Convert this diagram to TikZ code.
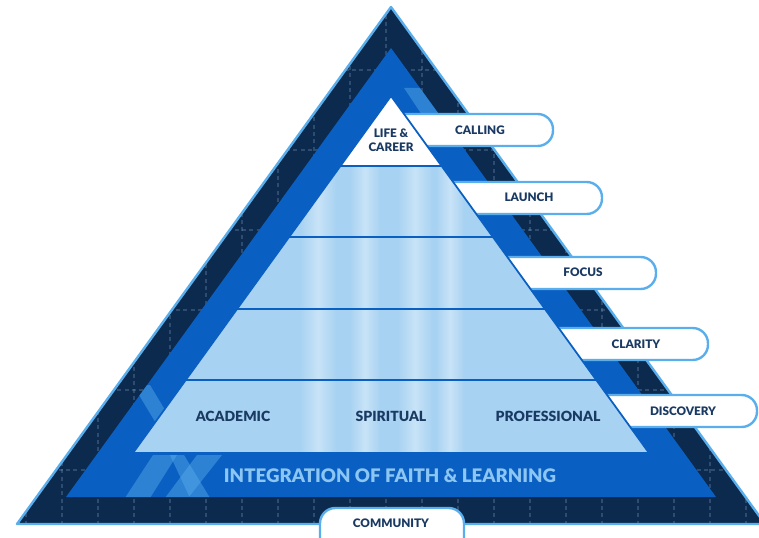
\documentclass[tikz,border=0pt]{standalone}
\usepackage{fontspec}
\setmainfont{Lato}[BoldFont={Lato Black}]

\definecolor{navy}{HTML}{0C2A4D}
\definecolor{midblue}{HTML}{0A5FC2}
\definecolor{paleblue}{HTML}{A8D2F2}
\definecolor{streak}{HTML}{C8E3F7}
\definecolor{rimblue}{HTML}{5AAEEC}
\definecolor{inkblue}{HTML}{1A3A63}
\definecolor{glowblue}{HTML}{8CC6F2}
\definecolor{plaid}{HTML}{7A9CC4}

\tikzset{
  plaidline/.style={draw=plaid, line width=1.6, opacity=0.3, dash pattern=on 3pt off 2.5pt},
  glint/.style={fill=rimblue, opacity=0.45},
  tabshape/.style={fill=white, draw=rimblue, line width=1.8, rounded corners=11.5pt},
  levelline/.style={draw=midblue, line width=1.3, line join=round},
  tablabel/.style={font=\bfseries\fontsize{8.8}{10.5}\selectfont, text=inkblue, align=center},
  levellabel/.style={font=\bfseries\fontsize{10.5}{12}\selectfont, text=inkblue}
}

\begin{document}
\begin{tikzpicture}[x=0.75pt,y=-0.75pt]
  \useasboundingbox (0,0) rectangle (759,538);

  % outer band
  \coordinate (otop) at (391,7);
  \coordinate (oright) at (765,524);
  \coordinate (oleft) at (17,524);
  \fill[navy] (otop) -- (oright) -- (oleft) -- cycle;
  \begin{scope}
    \clip (otop) -- (oright) -- (oleft) -- cycle;
    \foreach \px in {26,62,...,760}
      \draw[plaidline] (\px,0) -- (\px,538);
    \foreach \py in {70,150,...,540}
      \draw[plaidline] (0,\py) -- (759,\py);
  \end{scope}
  \draw[rimblue, line width=1.8, line join=round] (otop) -- (oright) -- (oleft) -- cycle;

  % blue band
  \coordinate (btop) at (391,48);
  \coordinate (bright) at (716,497);
  \coordinate (bleft) at (66,497);
  \fill[midblue] (btop) -- (bright) -- (bleft) -- cycle;
  \begin{scope}
    \clip (btop) -- (bright) -- (bleft) -- cycle;
    \fill[glint] (133,385) -- (150,385) -- (174,425) -- (157,425) -- cycle;
    \fill[glint] (197,455) -- (222,455) -- (188,498) -- (165,498) -- cycle;
    \fill[glint] (170,455) -- (184,455) -- (210,498) -- (190,498) -- cycle;
    \fill[glint] (153,455) -- (177,455) -- (150,498) -- (125,498) -- cycle;
    \fill[glint] (404,88) -- (424,88) -- (452,130) -- (432,130) -- cycle;
  \end{scope}

  % tabs
  \foreach \ty/\tx in {114/553,182/602,257/656,328/708,395/757}
    \draw[tabshape] (391,\ty) rectangle (\tx,\ty+32);
  \draw[tabshape] (320,508) rectangle (464,560);

  % pyramid
  \coordinate (ptop) at (391,96);
  \coordinate (pright) at (649,453);
  \coordinate (pleft) at (133,453);
  \fill[paleblue] (ptop) -- (pright) -- (pleft) -- cycle;
  \begin{scope}
    \clip (ptop) -- (pright) -- (pleft) -- cycle;
    \foreach \sx/\sw in {300/36,350/30,398/34,436/28}
      \shade[left color=paleblue, right color=paleblue, middle color=streak]
        (\sx,96) rectangle (\sx+\sw,453);
  \end{scope}
  \fill[white] (ptop) -- (442,166) -- (340,166) -- cycle;
  \foreach \ly in {166,237,309,380}
    \draw[levelline] ({391-(\ly-96)/1.382},\ly) -- ({391+(\ly-96)/1.382},\ly);
  \draw[levelline] (ptop) -- (pright) -- (pleft) -- cycle;

  % labels
  \node[tablabel] (lifecareer) at (391,140) {LIFE \&\\CAREER};
  \node[tablabel] (calling) at (480,130) {CALLING};
  \node[tablabel] (launch) at (529,197) {LAUNCH};
  \node[tablabel] (focus) at (583,272) {FOCUS};
  \node[tablabel] (clarity) at (636,344) {CLARITY};
  \node[tablabel] (discovery) at (683,411) {DISCOVERY};
  \node[tablabel] (community) at (391,523) {COMMUNITY};
  \node[levellabel] (academic) at (233,416) {ACADEMIC};
  \node[levellabel] (spiritual) at (391,416) {SPIRITUAL};
  \node[levellabel] (professional) at (548,416) {PROFESSIONAL};
  \node[font=\bfseries\fontsize{14}{16}\selectfont, text=glowblue] (integration)
    at (390,476) {INTEGRATION OF FAITH \& LEARNING};
\end{tikzpicture}
\end{document}
